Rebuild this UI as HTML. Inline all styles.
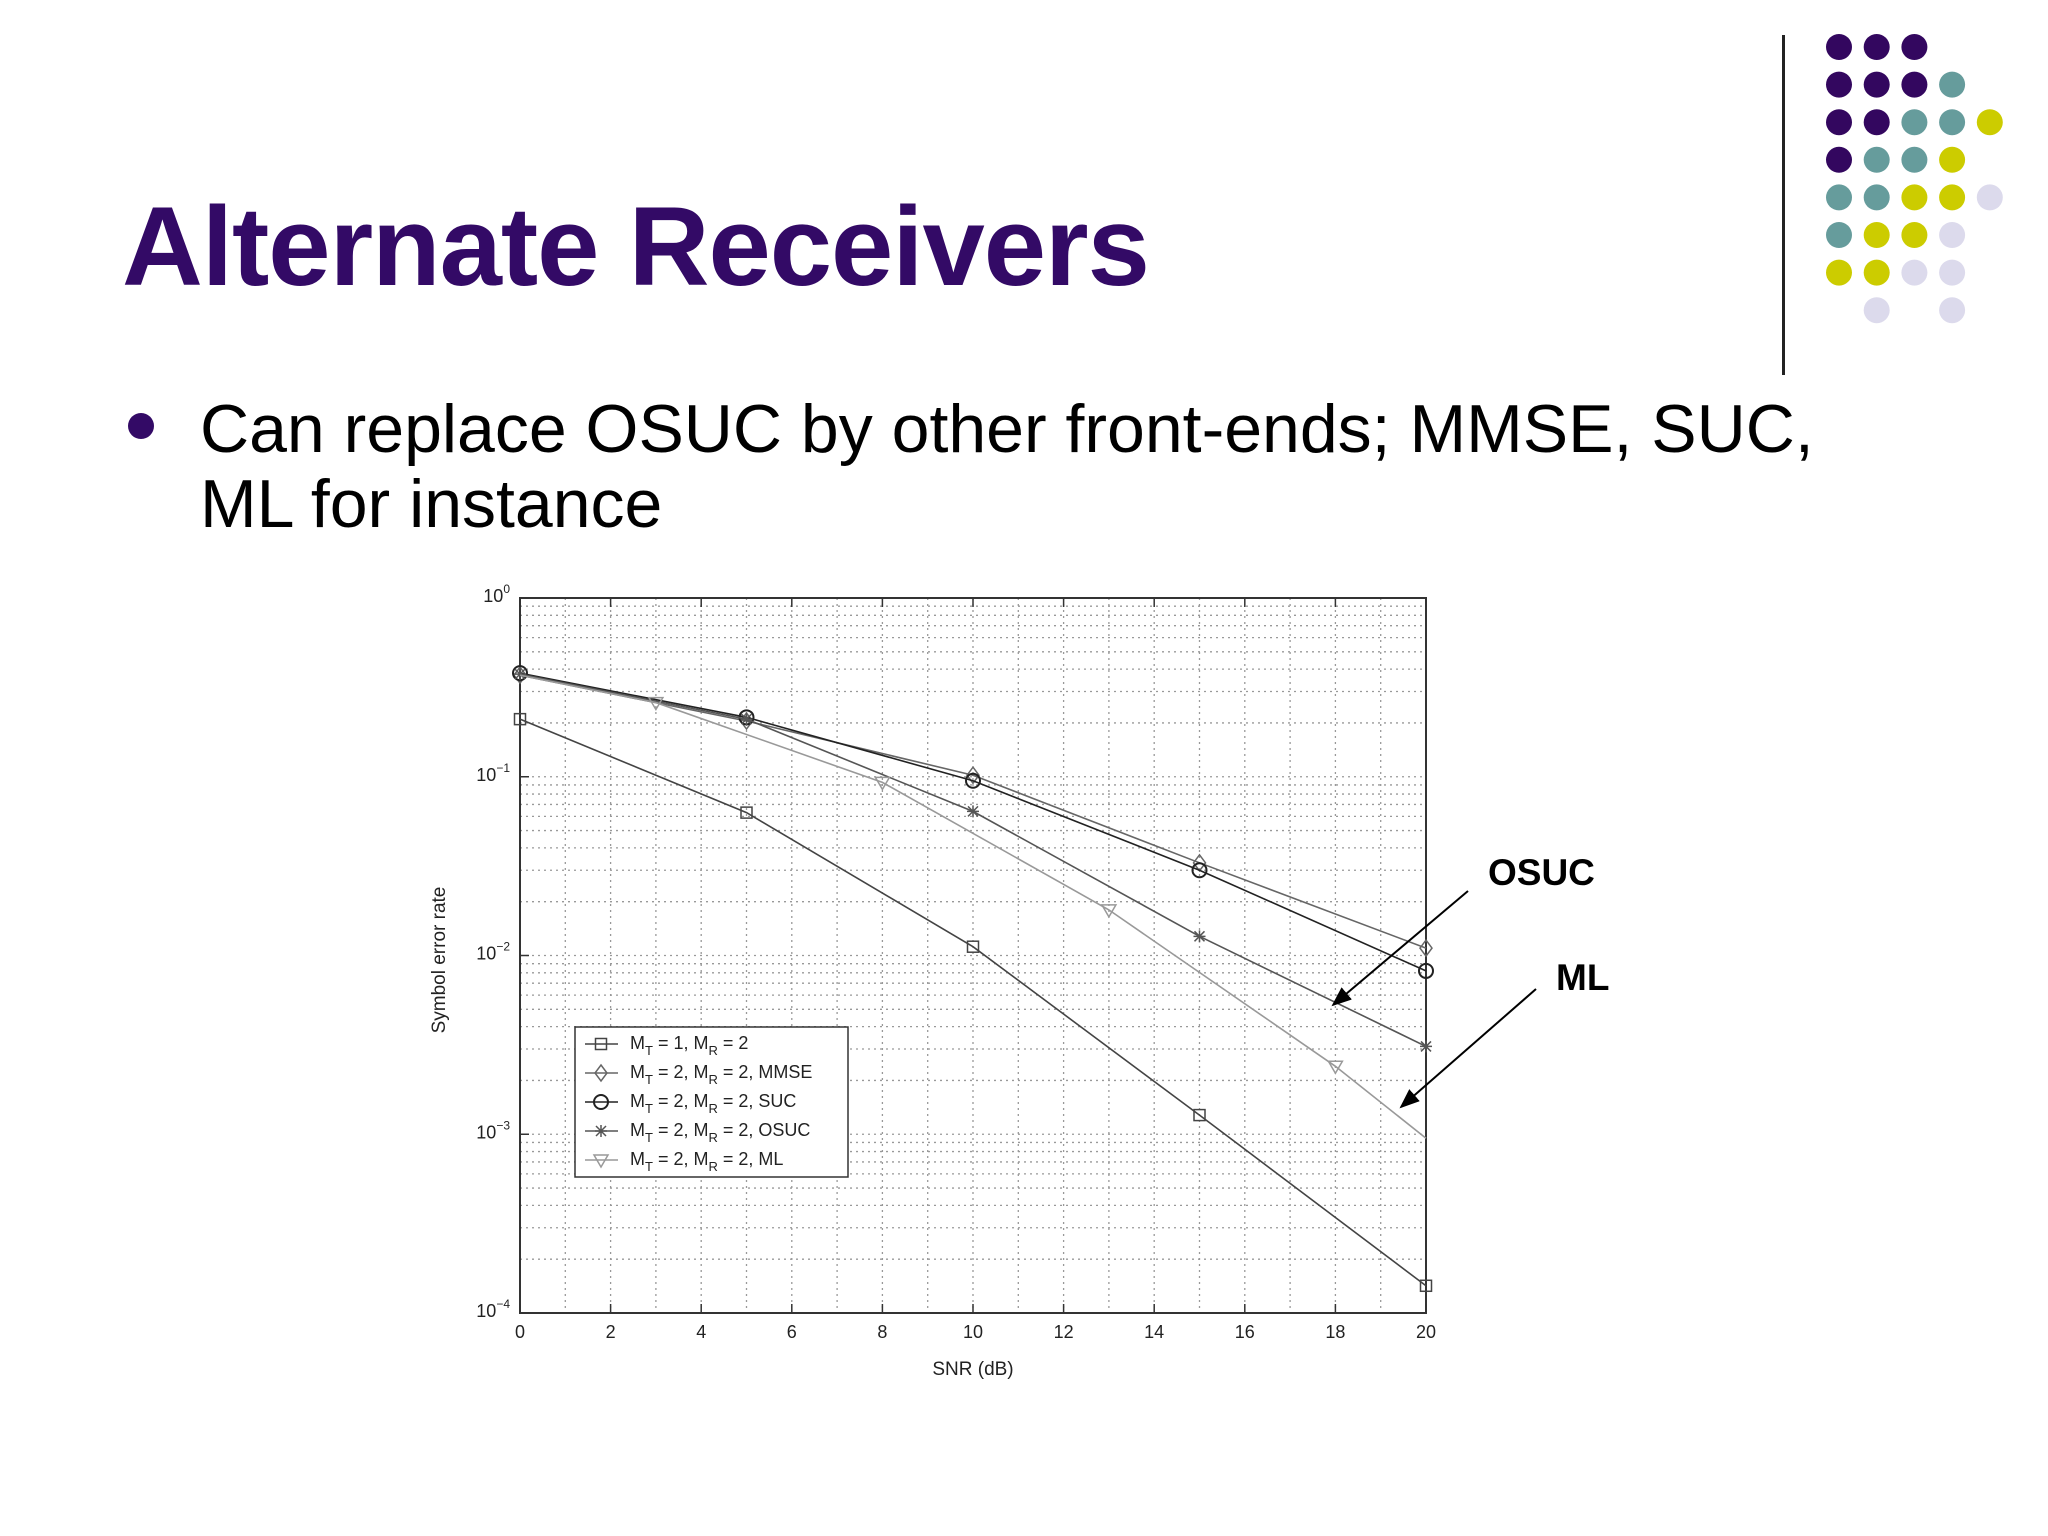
<!DOCTYPE html>
<html><head><meta charset="utf-8"><style>
html,body{margin:0;padding:0;background:#fff}
body{width:2048px;height:1536px;position:relative;overflow:hidden;font-family:"Liberation Sans",sans-serif}
.t{position:absolute;white-space:nowrap}
</style></head><body>
<div class="t" style="left:122px;top:182px;font-size:112px;font-weight:bold;color:#330a66;letter-spacing:-1px">Alternate Receivers</div>
<div style="position:absolute;left:128px;top:413px;width:26px;height:26px;border-radius:50%;background:#330a66"></div>
<div class="t" style="left:200px;top:392px;font-size:68px;line-height:75px;color:#000">Can replace OSUC by other front-ends; MMSE, SUC,<br>ML for instance</div>
<div style="position:absolute;left:1782px;top:35px;width:3px;height:340px;background:#222"></div>
<svg id="dots" width="2048" height="400" style="position:absolute;left:0;top:0"></svg>
<svg id="chart" width="2048" height="1536" style="position:absolute;left:0;top:0"></svg>
<script>
const snrTicks=[0,2,4,6,8,10,12,14,16,18,20];
const decades=[0,-1,-2,-3,-4];
const xSquare=[0,5,10,15,20];const ySquare=[0.21,0.063,0.0112,0.00128,0.000142];
const xMmse=[0,5,10,15,20];const yMmse=[0.37,0.205,0.102,0.033,0.011];
const xSuc=[0,5,10,15,20];const ySuc=[0.38,0.215,0.095,0.030,0.0082];
const xOsuc=[0,5,10,15,20];const yOsuc=[0.375,0.21,0.064,0.0128,0.0031];
const xMlLine=[0,3,8,13,18,20];const yMl=[0.37,0.26,0.093,0.018,0.0024,0.00095];
const xMlMarks=[3,8,13,18];const yMlMarks=[0.26,0.093,0.018,0.0024];
const L=520,R=1426,T=598,B=1313;
const X=v=>L+(v-0)/20*(R-L);
const Y=v=>T+(0-Math.log10(v))/4*(B-T);
const NS='http://www.w3.org/2000/svg';
const svg=document.getElementById('chart');
function el(t,a,p){const e=document.createElementNS(NS,t);for(const k in a)e.setAttribute(k,a[k]);(p||svg).appendChild(e);return e;}
const dsvg=document.getElementById('dots');
const P='#33075f',G='#669c9c',Yc='#cccc00',Lv='#dcdaec';
const grid=[[P,P,P],[P,P,P,G],[P,P,G,G,Yc],[P,G,G,Yc],[G,G,Yc,Yc,Lv],[G,Yc,Yc,Lv],[Yc,Yc,Lv,Lv],[null,Lv,null,Lv]];
grid.forEach((row,r)=>row.forEach((c,i)=>{if(!c)return;const d=el('circle',{cx:1839+i*37.7,cy:47+r*37.6,r:13,fill:c},dsvg);

}));
for(let v=0;v<=20;v++){const g=el('line',{x1:X(v),x2:X(v),y1:T,y2:B,stroke:'#999','stroke-width':1.3,'stroke-dasharray':'2 4'});

}
for(let d=-4;d<0;d++)for(let m=1;m<10;m++){const v=m*Math.pow(10,d);const g=el('line',{x1:L,x2:R,y1:Y(v),y2:Y(v),stroke:'#999','stroke-width':1.3,'stroke-dasharray':'2 4'});

}
const fr=el('rect',{x:L,y:T,width:R-L,height:B-T,fill:'none',stroke:'#333','stroke-width':2});


snrTicks.forEach(v=>{el('line',{x1:X(v),x2:X(v),y1:B,y2:B-9,stroke:'#333','stroke-width':1.5});el('line',{x1:X(v),x2:X(v),y1:T,y2:T+9,stroke:'#333','stroke-width':1.5});
const t=el('text',{x:X(v),y:B+25,'font-size':18,'text-anchor':'middle',fill:'#222'});t.textContent=v;

});
decades.forEach(d=>{const y=Y(Math.pow(10,d));el('line',{x1:L,x2:L+9,y1:y,y2:y,stroke:'#333','stroke-width':1.5});
const t=el('text',{x:L-10,y:y+4,'font-size':18,'text-anchor':'end',fill:'#222'});t.textContent='10';
const s=el('tspan',{dy:-9,'font-size':12});s.textContent=String(d).replace('-','−');t.appendChild(s);

});
const xt=el('text',{x:(L+R)/2,y:1375,'font-size':19,'text-anchor':'middle',fill:'#222'});xt.textContent='SNR (dB)';


const yt=el('text',{x:0,y:0,'font-size':19,'text-anchor':'middle',fill:'#222',transform:'translate(445,960) rotate(-90)'});yt.textContent='Symbol error rate';


function marker(type,x,y,col){const w=1.5;
if(type==='sq')return el('rect',{x:x-5.5,y:y-5.5,width:11,height:11,fill:'none',stroke:col,'stroke-width':w});
if(type==='di')return el('path',{d:`M${x} ${y-8}L${x+6} ${y}L${x} ${y+8}L${x-6} ${y}Z`,fill:'none',stroke:col,'stroke-width':w});
if(type==='ci')return el('circle',{cx:x,cy:y,r:7,fill:'none',stroke:col,'stroke-width':2});
if(type==='st')return el('path',{d:`M${x-6} ${y}H${x+6}M${x} ${y-6}V${y+6}M${x-5} ${y-5}L${x+5} ${y+5}M${x-5} ${y+5}L${x+5} ${y-5}`,stroke:col,'stroke-width':w});
if(type==='tr')return el('path',{d:`M${x-7} ${y-5}L${x+7} ${y-5}L${x} ${y+7}Z`,fill:'none',stroke:col,'stroke-width':w});}
const series=[
{n:'square',xs:xSquare,ys:ySquare,mx:xSquare,my:ySquare,m:'sq',c:'#444'},
{n:'mmse',xs:xMmse,ys:yMmse,mx:xMmse,my:yMmse,m:'di',c:'#666'},
{n:'suc',xs:xSuc,ys:ySuc,mx:xSuc,my:ySuc,m:'ci',c:'#222'},
{n:'osuc',xs:xOsuc,ys:yOsuc,mx:xOsuc,my:yOsuc,m:'st',c:'#555'},
{n:'ml',xs:xMlLine,ys:yMl,mx:xMlMarks,my:yMlMarks,m:'tr',c:'#999'}];
series.forEach(s=>{const p=el('polyline',{points:s.xs.map((v,i)=>X(v)+','+Y(s.ys[i])).join(' '),fill:'none',stroke:s.c,'stroke-width':1.6});


s.mx.forEach((v,i)=>{const m=marker(s.m,X(v),Y(s.my[i]),s.c);

});});
const lg=el('rect',{x:575,y:1027,width:273,height:150,fill:'#fff',stroke:'#333','stroke-width':1.5});


const labels=[['1','2',''],['2','2',', MMSE'],['2','2',', SUC'],['2','2',', OSUC'],['2','2',', ML']];
labels.forEach((lb,i)=>{const y=1044+i*29;const s=series[i];
el('line',{x1:585,x2:618,y1:y,y2:y,stroke:s.c,'stroke-width':1.5});marker(s.m,601,y,s.c);
const t=el('text',{x:630,y:y+5,'font-size':18,fill:'#222'});
t.innerHTML=`M<tspan dy="6" font-size="13">T</tspan><tspan dy="-6"> = ${lb[0]}, M</tspan><tspan dy="6" font-size="13">R</tspan><tspan dy="-6"> = ${lb[1]}${lb[2]}</tspan>`;

});
el('defs',{}).innerHTML='<marker id="ah" markerWidth="10" markerHeight="8" refX="9" refY="4" orient="auto"><path d="M0 0L10 4L0 8Z" fill="#000"/></marker>';
const a1=el('line',{x1:1468,x2:1333,y1:891,y2:1005,stroke:'#000','stroke-width':2,'marker-end':'url(#ah)'});


const a2=el('line',{x1:1536,x2:1401,y1:989,y2:1107,stroke:'#000','stroke-width':2,'marker-end':'url(#ah)'});


const o=el('text',{x:1488,y:885,'font-size':37,'font-weight':'bold',fill:'#000'});o.textContent='OSUC';


const m2=el('text',{x:1556,y:990,'font-size':37,'font-weight':'bold',fill:'#000'});m2.textContent='ML';


</script>
</body></html>
